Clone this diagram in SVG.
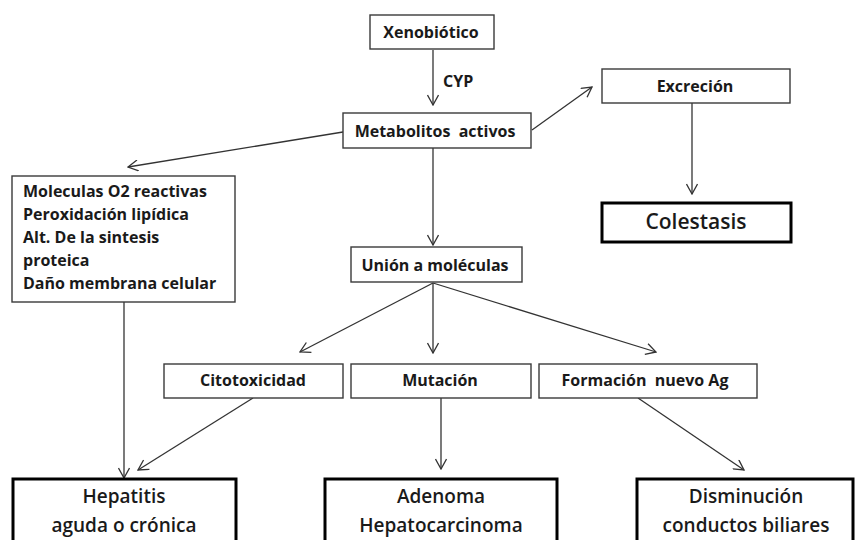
<svg xmlns="http://www.w3.org/2000/svg" width="859" height="540" viewBox="0 0 859 540">
<defs>
<marker id="arr" viewBox="0 0 12 12" refX="11" refY="6" markerWidth="12" markerHeight="12" markerUnits="userSpaceOnUse" orient="auto">
<path d="M1,0.5 L11,6 L1,11.5" fill="none" stroke="#333" stroke-width="1.3"/>
</marker>
<style>
.box{fill:#fff;stroke:#3a3a3a;stroke-width:1.4}
.tbox{fill:#fff;stroke:#000;stroke-width:3}
.lbl{font-family:"Open Sans","Liberation Sans",sans-serif;font-weight:bold;font-size:16px;fill:#1a1a1a;white-space:pre}
.big{font-family:"Open Sans","Liberation Sans",sans-serif;font-weight:600;font-size:19px;fill:#1a1a1a}
.c{text-anchor:middle}
.con line{stroke:#333;stroke-width:1.3;marker-end:url(#arr)}
</style>
</defs>
<rect width="859" height="540" fill="#fff"/>
<g id="connectors" class="con">
<line x1="433" y1="50" x2="433" y2="105"/>
<line x1="532" y1="130" x2="592" y2="87"/>
<line x1="343" y1="132" x2="128" y2="167"/>
<line x1="433" y1="148" x2="433" y2="245"/>
<line x1="692" y1="103" x2="692" y2="194"/>
<line x1="124" y1="302" x2="124" y2="478"/>
<line x1="433" y1="283" x2="300" y2="352"/>
<line x1="433" y1="283" x2="433" y2="353"/>
<line x1="433" y1="283" x2="656" y2="352"/>
<line x1="253" y1="398" x2="138" y2="470"/>
<line x1="441" y1="398" x2="441" y2="469"/>
<line x1="638" y1="398" x2="744" y2="470"/>
</g>
<text class="lbl" x="443" y="87">CYP</text>
<g id="xenobiotico"><rect class="box" x="370" y="15" width="124" height="34"/><text class="lbl c" x="431" y="38">Xenobiótico</text></g>
<g id="metabolitos"><rect class="box" x="343" y="113" width="188" height="35"/><text class="lbl c" x="435" y="137" xml:space="preserve">Metabolitos  activos</text></g>
<g id="excrecion"><rect class="box" x="602" y="69" width="188" height="34"/><text class="lbl c" x="695" y="92">Excreción</text></g>
<g id="colestasis"><rect class="tbox" x="602" y="203" width="189" height="39"/><text class="big c" x="696" y="229" style="font-size:21px">Colestasis</text></g>
<g id="moleculas"><rect class="box" x="12" y="176" width="223" height="126"/>
<text class="lbl" x="23" y="197">Moleculas O2 reactivas</text>
<text class="lbl" x="23" y="220">Peroxidación lipídica</text>
<text class="lbl" x="23" y="243">Alt. De la sintesis</text>
<text class="lbl" x="23" y="266">proteica</text>
<text class="lbl" x="23" y="289">Daño membrana celular</text>
</g>
<g id="union"><rect class="box" x="351" y="247" width="171" height="35"/><text class="lbl c" x="435" y="271">Unión a moléculas</text></g>
<g id="citotoxicidad"><rect class="box" x="164" y="364" width="179" height="34"/><text class="lbl c" x="253" y="386">Citotoxicidad</text></g>
<g id="mutacion"><rect class="box" x="351" y="364" width="180" height="34"/><text class="lbl c" x="440" y="386">Mutación</text></g>
<g id="formacion"><rect class="box" x="539" y="364" width="218" height="34"/><text class="lbl c" x="645" y="386" xml:space="preserve">Formación  nuevo Ag</text></g>
<g id="hepatitis"><rect class="tbox" x="13" y="479" width="223" height="80"/><text class="big c" x="124" y="503">Hepatitis</text><text class="big c" x="124" y="532">aguda o crónica</text></g>
<g id="adenoma"><rect class="tbox" x="325" y="479" width="232" height="80"/><text class="big c" x="441" y="503">Adenoma</text><text class="big c" x="441" y="532">Hepatocarcinoma</text></g>
<g id="disminucion"><rect class="tbox" x="637" y="479" width="216" height="80"/><text class="big c" x="746" y="503">Disminución</text><text class="big c" x="746" y="532">conductos biliares</text></g>
</svg>
